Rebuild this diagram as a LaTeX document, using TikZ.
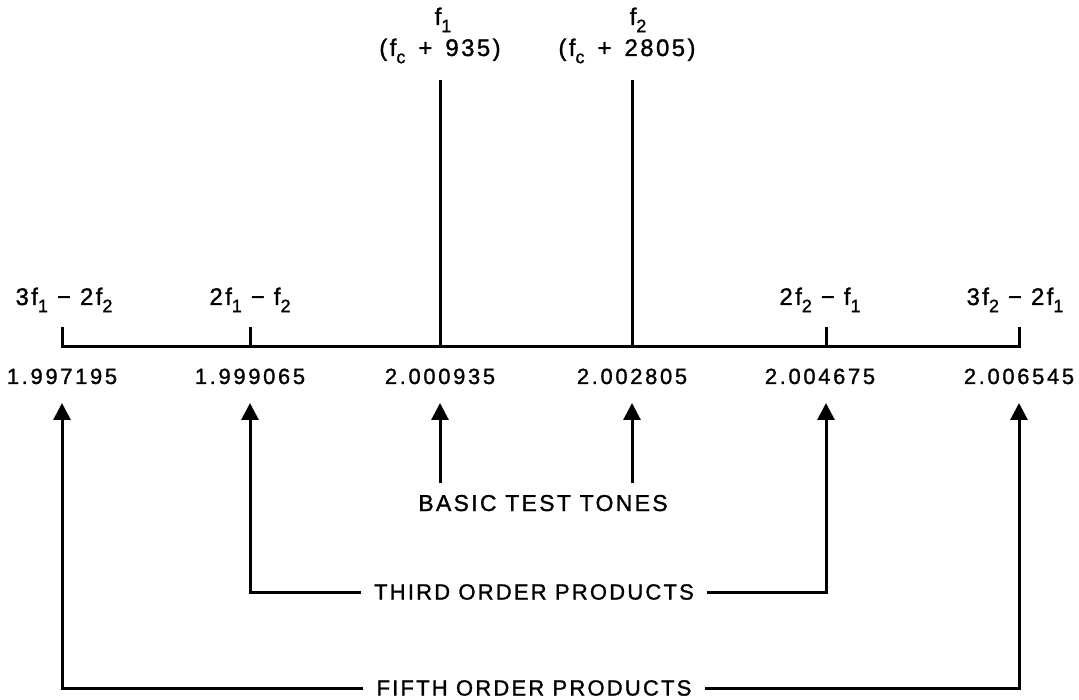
\documentclass[tikz,border=0pt]{standalone}
\usepackage{fontspec}
\setmainfont{Liberation Sans}[FakeBold=1.2]
\newfontfamily\lblfont{Liberation Sans}[LetterSpace=10,FakeBold=1.2]
\newfontfamily\numfont{Liberation Sans}[LetterSpace=12,FakeBold=1.2]
\usetikzlibrary{arrows.meta}
\newcommand\sbs[1]{\raisebox{-0.3em}{\fontsize{18}{18}\selectfont #1}}
\newcommand\mn{\hspace{9pt}−\hspace{9pt}}
\newcommand\pl{\hspace{13pt}+\hspace{13pt}}
\tikzset{
  ln/.style={line width=3pt, line cap=butt, line join=miter},
  arr/.style={ln, -{Triangle[length=17pt,width=17pt]}},
  formula/.style={font=\lblfont\fontsize{24}{28}\selectfont, inner sep=0pt, anchor=base},
  numlbl/.style={font=\numfont\fontsize{22}{26}\selectfont, inner sep=0pt, anchor=base},
  caption/.style={font=\lblfont\fontsize{22}{26}\selectfont, inner xsep=13pt, inner ysep=0pt},
}
\begin{document}
\begin{tikzpicture}[x=1pt,y=-1pt]
\path (0,0) rectangle (1079,700);
% axis
\coordinate (t1) at (62,347);
\coordinate (t2) at (250,347);
\coordinate (t3) at (440,347);
\coordinate (t4) at (632,347);
\coordinate (t5) at (826,347);
\coordinate (t6) at (1019,347);
\coordinate (u1) at (62,327);
\coordinate (u2) at (250,327);
\coordinate (u3) at (440,80);
\coordinate (u4) at (632,80);
\coordinate (u5) at (826,327);
\coordinate (u6) at (1019,327);
\draw[ln] (u1) -- (t1) -- (t6) -- (u6);
\draw[ln] (t2) -- (u2);
\draw[ln] (t3) -- (u3);
\draw[ln] (t4) -- (u4);
\draw[ln] (t5) -- (u5);
% top labels
\node[formula] (f1) at (443,25) {f\sbs{1}};
\node[formula] (f1c) at (440,56) {(f\sbs{c}\pl 935)};
\node[formula] (f2) at (638,25) {f\sbs{2}};
\node[formula] (f2c) at (627,56) {(f\sbs{c}\pl 2805)};
% tick labels
\node[formula] (p1) at (64,305) {3f\sbs{1}\mn 2f\sbs{2}};
\node[formula] (p2) at (250,305) {2f\sbs{1}\mn f\sbs{2}};
\node[formula] (p5) at (820,305) {2f\sbs{2}\mn f\sbs{1}};
\node[formula] (p6) at (1015,305) {3f\sbs{2}\mn 2f\sbs{1}};
% numbers
\node[numlbl] (n1) at (62,384) {1.997195};
\node[numlbl] (n2) at (250,384) {1.999065};
\node[numlbl] (n3) at (440,384) {2.000935};
\node[numlbl] (n4) at (632,384) {2.002805};
\node[numlbl] (n5) at (820,384) {2.004675};
\node[numlbl] (n6) at (1019,384) {2.006545};
% arrow tips
\coordinate (a1) at (62,403);
\coordinate (a2) at (250,403);
\coordinate (a3) at (440,403);
\coordinate (a4) at (632,403);
\coordinate (a5) at (826,403);
\coordinate (a6) at (1019,403);
\coordinate (b3) at (440,483);
\coordinate (b4) at (632,483);
% captions
\node[font=\lblfont\fontsize{23}{26}\selectfont, inner sep=0pt, anchor=base] (basic) at (543,511) {BASIC TEST TONES};
\node[caption] (third) at (534,592) {THIRD ORDER PRODUCTS};
\node[caption] (fifth) at (534,688) {FIFTH ORDER PRODUCTS};
\draw[arr] (b3) -- (a3);
\draw[arr] (b4) -- (a4);
\draw[arr] (third.west) -| (a2);
\draw[arr] (third.east) -| (a5);
\draw[arr] (fifth.west) -| (a1);
\draw[arr] (fifth.east) -| (a6);
\end{tikzpicture}
\end{document}
